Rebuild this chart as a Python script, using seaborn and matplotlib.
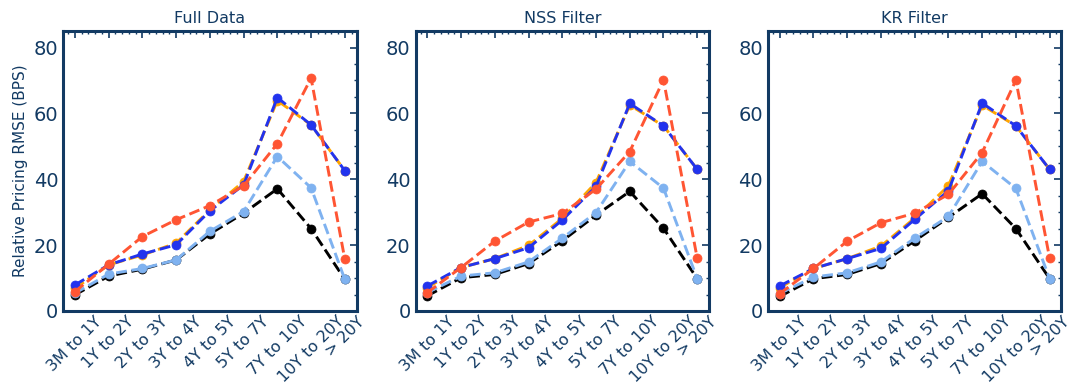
import numpy as np
import pandas as pd
import matplotlib
matplotlib.use("Agg")
import matplotlib.pyplot as plt
import seaborn as sns
from matplotlib.ticker import AutoMinorLocator, MultipleLocator

categories = ["3M to 1Y", "1Y to 2Y", "2Y to 3Y", "3Y to 4Y", "4Y to 5Y",
              "5Y to 7Y", "7Y to 10Y", "10Y to 20Y", "> 20Y"]
panel_titles = ["Full Data", "NSS Filter", "KR Filter"]

# Full Data
full_black = [4.9, 10.6, 12.7, 15.5, 23.4, 29.7, 37.1, 25.0, 9.6]
full_light = [5.4, 11.2, 12.9, 15.5, 24.2, 30.2, 46.9, 37.4, 9.6]
full_orange = [6.9, 14.0, 17.0, 20.6, 30.7, 39.3, 63.9, 56.5, 42.6]
full_blue = [7.9, 14.0, 17.3, 20.1, 30.4, 38.3, 64.8, 56.5, 42.6]
full_red = [5.9, 14.2, 22.6, 27.7, 32.0, 38.0, 50.8, 70.7, 15.7]

# NSS Filter
nss_black = [4.6, 10.1, 11.1, 14.4, 21.3, 29.1, 36.3, 25.1, 9.8]
nss_light = [5.6, 10.6, 11.6, 14.9, 22.1, 29.9, 45.4, 37.3, 9.8]
nss_orange = [7.1, 13.2, 15.9, 19.9, 28.1, 39.0, 62.5, 56.2, 43.0]
nss_blue = [7.6, 13.2, 15.9, 19.2, 27.6, 37.8, 63.0, 56.2, 43.0]
nss_red = [5.6, 13.2, 21.2, 27.0, 29.6, 37.0, 48.4, 70.2, 16.0]

# KR Filter
kr_black = [4.4, 9.8, 11.1, 14.4, 21.3, 28.4, 35.6, 25.0, 9.8]
kr_light = [5.3, 10.3, 11.6, 14.9, 22.1, 28.7, 45.4, 37.2, 9.8]
kr_orange = [7.1, 12.9, 15.9, 19.7, 28.2, 38.0, 62.5, 56.2, 43.0]
kr_blue = [7.6, 12.9, 15.9, 19.0, 27.8, 36.5, 63.1, 56.2, 43.0]
kr_red = [5.3, 12.9, 21.2, 26.8, 29.7, 35.4, 48.1, 70.1, 16.0]

series_colors = ["black", "#7fb2f0", "#ffa500", "#2233ee", "#ff5533"]
panels = [
    [full_black, full_light, full_orange, full_blue, full_red],
    [nss_black, nss_light, nss_orange, nss_blue, nss_red],
    [kr_black, kr_light, kr_orange, kr_blue, kr_red],
]

navy = "#123a63"
sns.set_style("white")
plt.rcParams["font.family"] = ["DejaVu Sans"]

fig, axes = plt.subplots(1, 3, figsize=(10.7, 3.88), dpi=100)
fig.subplots_adjust(left=0.059, right=0.992, bottom=0.1985, top=0.920, wspace=0.2007)

xpos = np.arange(len(categories))
for ax, title, data in zip(axes, panel_titles, panels):
    for vals, col in zip(data, series_colors):
        df = pd.DataFrame({"x": xpos, "y": vals})
        sns.lineplot(data=df, x="x", y="y", ax=ax, color=col, linestyle="--",
                     linewidth=2.1, marker="o", markersize=6.5,
                     markeredgecolor=col, markeredgewidth=0.5)
    ax.set_xlim(-0.35, 8.35)
    ax.set_ylim(0, 85)
    ax.set_xticks(xpos)
    ax.set_xticklabels(categories, rotation=45, ha="center", fontsize=11.5, color=navy)
    ax.yaxis.set_major_locator(MultipleLocator(20))
    ax.xaxis.set_minor_locator(AutoMinorLocator(5))
    ax.yaxis.set_minor_locator(AutoMinorLocator(4))
    ax.tick_params(axis="y", labelsize=14, labelcolor=navy)
    ax.tick_params(axis="x", pad=2)
    ax.tick_params(which="both", direction="in", top=True, right=True, color=navy)
    ax.tick_params(which="major", length=5, width=1.2)
    ax.tick_params(which="minor", length=2.5, width=1)
    for s in ax.spines.values():
        s.set_color(navy)
        s.set_linewidth(2.2)
    ax.set_title(title, fontsize=11.5, color=navy)
    ax.set_xlabel("")
    ax.set_ylabel("")

axes[0].set_ylabel("Relative Pricing RMSE (BPS)", fontsize=11, color=navy)

fig.savefig("out.png", dpi=100)
